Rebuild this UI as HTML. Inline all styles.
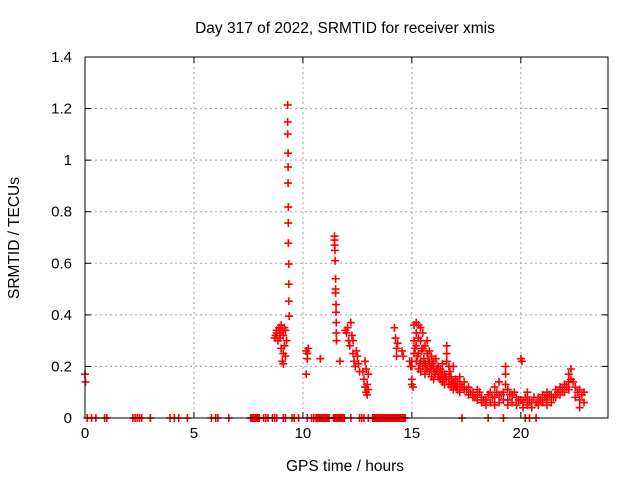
<!DOCTYPE html>
<html><head><meta charset="utf-8"><style>
body{margin:0;background:#fff}
svg{display:block;font-family:"Liberation Sans",sans-serif}
</style></head><body>
<svg id="chart" width="640" height="480" viewBox="0 0 640 480">
<text x="345" y="33" text-anchor="middle" font-size="15.5">Day 317 of 2022, SRMTID for receiver xmis</text>
<text transform="translate(19,238) rotate(-90)" text-anchor="middle" font-size="15.5">SRMTID / TECUs</text>
<text x="345" y="471" text-anchor="middle" font-size="15.5">GPS time / hours</text>
<g id="grid"></g>
<g id="ticks"></g>
<g id="marks"></g>
<rect x="85" y="57" width="523" height="361" fill="none" stroke="#000" stroke-width="1"/>
</svg>
<script>
const xTicks=[0,5,10,15,20];
const yTicks=[0,0.2,0.4,0.6,0.8,1,1.2,1.4];
const yTickLabels=["0","0.2","0.4","0.6","0.8","1","1.2","1.4"];
const hours=[0,0.02,
8.7,8.75,8.8,8.85,8.9,8.95,9.0,9.05,9.1,9.15,9.0,9.05,9.1,9.15,9.2,9.1,9.2,9.25,8.8,8.95,
9.3,9.3,9.3,9.32,9.32,9.32,9.33,9.33,9.33,9.35,9.35,9.35,9.37,
10.15,10.2,10.2,10.25,10.15,10.8,
11.45,11.45,11.46,11.47,11.48,11.5,11.5,11.5,11.52,11.52,11.53,11.53,11.54,11.7,
11.95,12.0,12.05,12.1,12.15,12.2,12.25,12.3,12.35,12.4,12.45,12.5,12.55,12.6,12.3,
12.75,12.8,12.85,12.9,12.95,13.0,12.85,12.9,12.95,13.0,
14.2,14.25,14.3,14.3,14.35,14.55,14.6,
14.9,14.95,15.0,15.0,15.0,15.0,15.05,15.1,15.1,15.1,15.2,15.2,15.2,15.2,15.3,15.3,15.3,15.3,15.4,15.4,15.4,15.4,15.5,15.5,15.5,15.6,15.6,15.6,15.7,15.7,15.7,15.8,15.8,15.8,15.9,15.9,15.9,16.0,16.0,16.0,16.1,16.1,16.2,16.2,16.3,16.3,16.4,16.4,16.4,16.5,16.5,16.6,16.6,16.6,16.6,16.7,16.7,16.7,16.8,16.8,16.9,16.9,16.9,17.0,17.0,17.1,17.1,17.2,17.2,17.2,17.4,17.4,17.6,17.6,17.8,17.8,18.0,18.0,18.0,18.2,18.2,18.4,18.4,18.6,18.6,18.8,18.8,18.8,19.0,19.0,19.0,19.2,19.2,19.3,19.3,19.3,19.4,19.4,19.4,19.6,19.6,19.8,19.8,20.0,20.05,20.0,20.1,20.1,20.3,20.3,20.3,20.5,20.5,20.8,20.8,21.0,21.0,21.2,21.2,21.2,21.4,21.4,21.6,21.6,21.8,21.8,22.0,22.0,22.2,22.2,22.2,22.3,22.3,22.5,22.5,22.7,22.7,22.7,22.9,22.9,
15.15,15.25,15.35,15.45,15.55,15.65,15.75,15.85,15.95,16.05,16.15,16.25,16.35,16.45,16.55,16.75,16.85,16.95,17.05,17.3,17.5,17.7,17.9,18.1,18.3,18.5,18.7,18.9,19.1,19.5,19.7,19.9,20.2,20.4,20.6,20.7,20.9,21.1,21.3,21.5,21.7,21.9,22.1,22.4,22.6,22.8];
const values=[0.17,0.14,
0.31,0.32,0.33,0.30,0.35,0.33,0.36,0.34,0.32,0.35,0.27,0.22,0.25,0.28,0.24,0.21,0.34,0.30,0.34,0.31,
1.214,1.148,1.101,1.027,0.973,0.911,0.818,0.756,0.678,0.597,0.519,0.453,0.395,
0.26,0.25,0.23,0.27,0.17,0.23,
0.705,0.69,0.67,0.65,0.61,0.54,0.50,0.485,0.44,0.41,0.37,0.33,0.30,0.22,
0.34,0.33,0.35,0.30,0.28,0.37,0.32,0.25,0.22,0.20,0.26,0.24,0.21,0.18,0.30,
0.18,0.15,0.12,0.10,0.13,0.17,0.22,0.19,0.09,0.11,
0.35,0.31,0.27,0.24,0.29,0.26,0.24,
0.22,0.20,0.22,0.20,0.15,0.13,0.12,0.30,0.25,0.36,0.37,0.33,0.28,0.22,0.36,0.31,0.25,0.19,0.35,0.30,0.22,0.18,0.33,0.27,0.20,0.28,0.21,0.17,0.30,0.25,0.19,0.26,0.22,0.18,0.24,0.20,0.16,0.22,0.19,0.15,0.23,0.18,0.20,0.16,0.19,0.15,0.18,0.14,0.21,0.17,0.13,0.28,0.25,0.22,0.15,0.20,0.13,0.16,0.16,0.12,0.20,0.14,0.11,0.15,0.12,0.14,0.11,0.13,0.10,0.16,0.14,0.11,0.12,0.09,0.10,0.08,0.09,0.07,0.11,0.08,0.06,0.07,0.05,0.10,0.06,0.12,0.08,0.05,0.14,0.09,0.06,0.10,0.07,0.20,0.17,0.13,0.11,0.07,0.05,0.09,0.06,0.08,0.05,0.23,0.22,0.07,0.06,0.04,0.10,0.07,0.05,0.06,0.04,0.08,0.05,0.09,0.06,0.10,0.07,0.05,0.09,0.06,0.11,0.08,0.12,0.09,0.13,0.10,0.17,0.14,0.11,0.19,0.15,0.12,0.08,0.11,0.07,0.04,0.10,0.06,
0.27,0.24,0.21,0.26,0.23,0.20,0.22,0.19,0.21,0.17,0.19,0.16,0.17,0.15,0.16,0.18,0.14,0.13,0.12,0.12,0.11,0.10,0.08,0.10,0.07,0.09,0.08,0.10,0.09,0.09,0.10,0.07,0.08,0.07,0.08,0.06,0.07,0.08,0.09,0.08,0.10,0.11,0.12,0.14,0.10,0.09];
const zeroHours=[0.1,0.3,0.5,0.9,1.0,2.2,2.3,2.4,2.5,2.6,3.0,3.9,4.1,4.3,4.7,5.8,6.0,6.1,6.6,7.6,7.65,7.7,7.75,7.8,7.85,7.9,7.95,8.0,8.2,8.3,8.4,8.6,8.7,8.8,9.1,9.2,9.5,9.6,9.8,10.2,10.4,10.5,10.6,10.65,10.7,10.75,10.8,10.85,10.9,10.95,11.0,11.05,11.1,11.15,11.2,11.4,11.45,11.5,11.55,11.6,11.65,11.7,11.75,11.8,11.85,11.9,12.2,12.6,12.7,12.8,13.0,13.2,13.25,13.3,13.35,13.4,13.45,13.5,13.55,13.6,13.65,13.7,13.75,13.8,13.85,13.9,13.95,14.0,14.05,14.1,14.15,14.2,14.25,14.3,14.35,14.4,14.45,14.5,14.55,14.6,14.65,14.7,17.3,18.5,19.2,20.2,20.4,20.7];
const X0=85,X1=608,Y0=418,Y1=57,XMAX=24,YMAX=1.4;
const sx=v=>X0+v/XMAX*(X1-X0), sy=v=>Y0-v/YMAX*(Y0-Y1);
const NS="http://www.w3.org/2000/svg";
const grid=document.getElementById('grid'),ticks=document.getElementById('ticks'),marks=document.getElementById('marks');
function mk(t,a,p){const e=document.createElementNS(NS,t);for(const k in a)e.setAttribute(k,a[k]);p.appendChild(e);return e;}
xTicks.forEach(t=>{const x=sx(t);
 if(t>0){const g=mk('line',{x1:x,y1:Y1,x2:x,y2:Y0,stroke:'#a0a0a0','stroke-dasharray':'2,3'},grid);
 
 }
 mk('line',{x1:x,y1:Y0,x2:x,y2:Y0-6,stroke:'#000'},ticks);mk('line',{x1:x,y1:Y1,x2:x,y2:Y1+6,stroke:'#000'},ticks);
 const l=mk('text',{x:x,y:Y0+20,'text-anchor':'middle','font-size':'15'},ticks);l.textContent=t;
 
 });
yTicks.forEach((t,i)=>{const y=sy(t);
 if(t>0&&t<YMAX){const g=mk('line',{x1:X0,y1:y,x2:X1,y2:y,stroke:'#a0a0a0','stroke-dasharray':'2,3'},grid);
 
 }
 mk('line',{x1:X0,y1:y,x2:X0+6,y2:y,stroke:'#000'},ticks);mk('line',{x1:X1,y1:y,x2:X1-6,y2:y,stroke:'#000'},ticks);
 const l=mk('text',{x:X0-13,y:y+5,'text-anchor':'end','font-size':'15'},ticks);l.textContent=yTickLabels[i];
 
 });
function plus(h,v){const x=sx(h),y=sy(v);
 const p=mk('path',{d:`M${x-4},${y}h8M${x},${y-4}v8`,stroke:'#f00','stroke-width':'1.6',fill:'none'},marks);
 
 }
hours.forEach((h,i)=>plus(h,values[i]));
zeroHours.forEach(h=>plus(h,0));
</script>
</body></html>
